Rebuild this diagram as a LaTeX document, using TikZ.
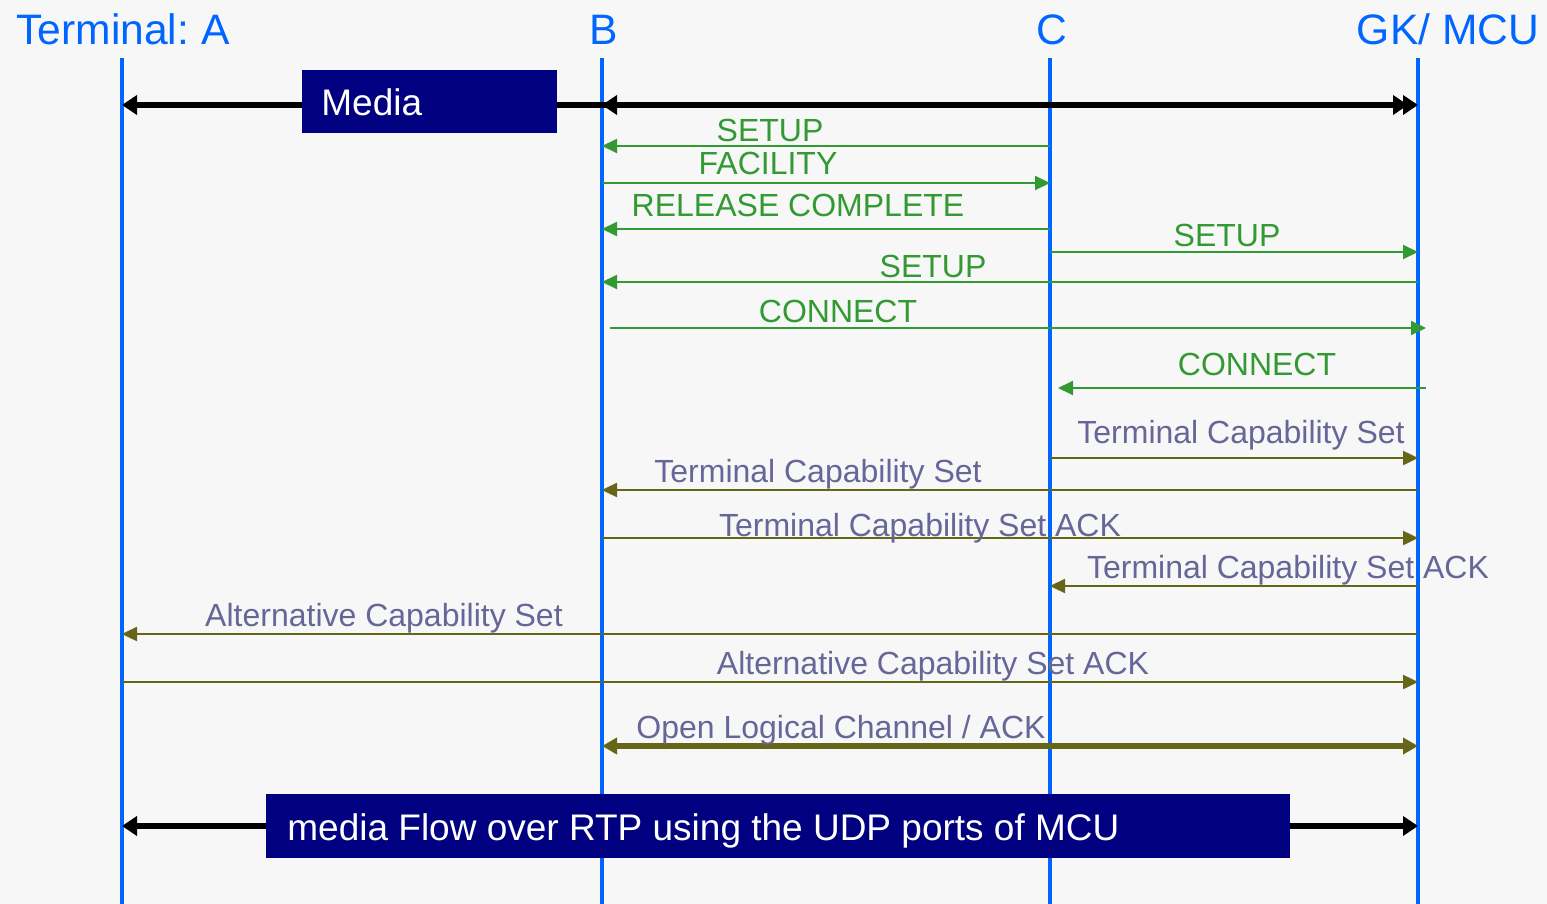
\documentclass[tikz,border=0pt]{standalone}
\usepackage{fontspec}
\setmainfont{Liberation Sans}
\usetikzlibrary{arrows.meta,calc}
\frenchspacing
\definecolor{bg}{HTML}{F7F7F7}
\definecolor{lifeblue}{HTML}{0066FF}
\definecolor{msggreen}{HTML}{339933}
\definecolor{capolive}{HTML}{666619}
\definecolor{captext}{HTML}{666699}
\definecolor{boxnavy}{HTML}{000080}
\tikzset{
  lifeline/.style={draw=lifeblue,line width=2.2pt},
  actor/.style={text=lifeblue,font=\fontsize{21.3}{24}\selectfont,inner sep=0pt,anchor=base},
  greenmsg/.style={draw=msggreen,line width=1pt,-{Triangle[length=7.5pt,width=7pt]}},
  greenlbl/.style={text=msggreen,font=\fontsize{16}{18}\selectfont,inner sep=0pt,anchor=base},
  capmsg/.style={draw=capolive,line width=1.2pt,-{Triangle[length=7.5pt,width=7pt]}},
  caplbl/.style={text=captext,font=\fontsize{16}{18}\selectfont,inner sep=0pt,anchor=base},
  mediaflow/.style={draw=black,line width=3pt,{Triangle[length=7.5pt,width=9.5pt]}-{Triangle[length=7.5pt,width=9.5pt]}},
  mediabox/.style={fill=boxnavy,draw=none,inner sep=0pt,anchor=north west},
  boxtext/.style={text=white,font=\fontsize{18.5}{21}\selectfont,inner sep=0pt,anchor=base west}
}
\begin{document}
\begin{tikzpicture}[x=0.5pt,y=-0.5pt]
% canvas
\fill[bg] (0,0) rectangle (1547,904);
\useasboundingbox (0,0) rectangle (1547,904);

% lifelines
\coordinate (A) at (122,58);   \coordinate (Aend) at (122,904);
\coordinate (B) at (602,58);   \coordinate (Bend) at (602,904);
\coordinate (C) at (1050,58);  \coordinate (Cend) at (1050,904);
\coordinate (G) at (1418,58);  \coordinate (Gend) at (1418,904);
\draw[lifeline] (A) -- (Aend);
\draw[lifeline] (B) -- (Bend);
\draw[lifeline] (C) -- (Cend);
\draw[lifeline] (G) -- (Gend);

% actor names
\node[actor] (tA) at (123,45) {Terminal: A};
\node[actor] (tB) at (604,45) {B};
\node[actor] (tC) at (1052,45) {C};
\node[actor] (tG) at (1448,45) {GK/ MCU};

% initial media path
\draw[mediaflow] (A |- 0,105) -- ($(G |- 0,105)+(-10,0)$);
\draw[mediaflow] (B |- 0,105) -- (G |- 0,105);
\node[mediabox,minimum width=127.5pt,minimum height=31.5pt] (mbox) at (302,70) {};
\node[boxtext] (mtext) at (321,116) {Media};

% call signalling
\draw[greenmsg] (C |- 0,146) -- (B |- 0,146);
\node[greenlbl] (l1) at (770,141) {SETUP};
\draw[greenmsg] (B |- 0,183) -- (C |- 0,183);
\node[greenlbl] (l2) at (768,175) {FACILITY};
\draw[greenmsg] (C |- 0,229) -- (B |- 0,229);
\node[greenlbl] (l3) at (798,216) {RELEASE COMPLETE};
\draw[greenmsg] (C |- 0,252) -- (G |- 0,252);
\node[greenlbl] (l4) at (1227,246) {SETUP};
\draw[greenmsg] (G |- 0,282) -- (B |- 0,282);
\node[greenlbl] (l5) at (933,277) {SETUP};
\draw[greenmsg] ($(B |- 0,328)+(8,0)$) -- ($(G |- 0,328)+(8,0)$);
\node[greenlbl] (l6) at (838,322) {CONNECT};
\draw[greenmsg] ($(G |- 0,388)+(8,0)$) -- ($(C |- 0,388)+(8,0)$);
\node[greenlbl] (l7) at (1257,375) {CONNECT};

% capability exchange
\draw[capmsg] (C |- 0,458) -- (G |- 0,458);
\node[caplbl] (c1) at (1241,443) {Terminal Capability Set};
\draw[capmsg] (G |- 0,490) -- (B |- 0,490);
\node[caplbl] (c2) at (818,482) {Terminal Capability Set};
\draw[capmsg] (B |- 0,538) -- (G |- 0,538);
\node[caplbl] (c3) at (920,536) {Terminal Capability Set ACK};
\draw[capmsg] (G |- 0,586) -- (C |- 0,586);
\node[caplbl] (c4) at (1288,578) {Terminal Capability Set ACK};
\draw[capmsg] (G |- 0,634) -- (A |- 0,634);
\node[caplbl] (c5) at (384,626) {Alternative Capability Set};
\draw[capmsg] (A |- 0,682) -- (G |- 0,682);
\node[caplbl] (c6) at (933,674) {Alternative Capability Set ACK};
\draw[capmsg,line width=3pt,{Triangle[length=7.5pt,width=8pt]}-{Triangle[length=7.5pt,width=8pt]}] (B |- 0,746) -- (G |- 0,746);
\node[caplbl] (c7) at (841,738) {Open Logical Channel / ACK};

% media through the MCU
\draw[mediaflow] (A |- 0,826) -- (G |- 0,826);
\node[mediabox,minimum width=512pt,minimum height=32pt] (fbox) at (266,794) {};
\node[boxtext] (ftext) at (287,840) {media Flow over RTP using the UDP ports of MCU};
\end{tikzpicture}
\end{document}
